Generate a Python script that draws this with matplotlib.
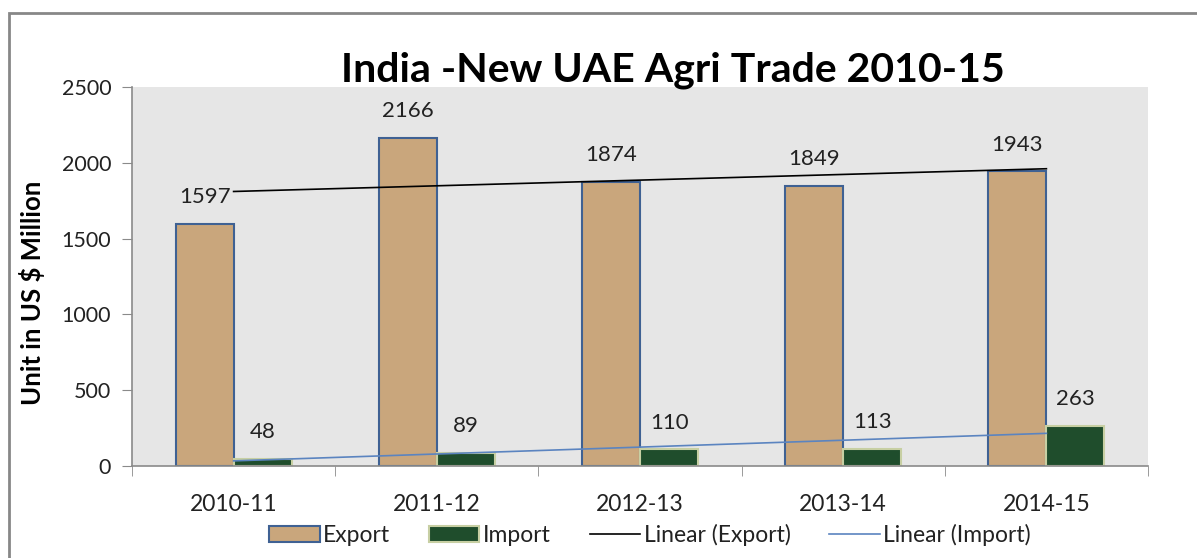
import numpy as np
import matplotlib
matplotlib.use("Agg")
import matplotlib.pyplot as plt
from matplotlib.patches import Rectangle

plt.rcParams['font.family'] = ['Lato', 'DejaVu Sans']

# data
years = ["2010-11", "2011-12", "2012-13", "2013-14", "2014-15"]
export = [1597, 2166, 1874, 1849, 1943]
imports = [48, 89, 110, 113, 263]

fig = plt.figure(figsize=(11.97, 5.58), dpi=100)
ax = fig.add_axes([132/1197, 1 - 466/558, (1148-132)/1197, (466-87)/558])
ax.set_facecolor("#e6e6e6")

x = np.arange(len(years))
w = 1 / 3.5  # excel gap width 150%

b1 = ax.bar(x - w/2, export, w, color="#c9a67c", edgecolor="#3f6193", linewidth=1.5,
            label="Export", zorder=2)
b2 = ax.bar(x + w/2, imports, w, color="#1f4d2c", edgecolor="#c7cfa3", linewidth=1.5,
            label="Import", zorder=2)

# linear trend lines (fit over the category index)
xs = np.array([0, len(years) - 1])
pe = np.polyfit(x, export, 1)
pi = np.polyfit(x, imports, 1)
l1, = ax.plot(xs, np.polyval(pe, xs), color="black", lw=1.2, label="Linear (Export)", zorder=3)
l2, = ax.plot(xs, np.polyval(pi, xs), color="#5b84c0", lw=1.2, label="Linear (Import)", zorder=3)

# value labels
for xi, v in zip(x, export):
    ax.annotate(str(v), (xi - w/2, v), xytext=(0, 12), textcoords="offset points",
                ha="center", va="bottom", fontsize=16, color="#222222", zorder=4)
for xi, v in zip(x, imports):
    ax.annotate(str(v), (xi + w/2, v), xytext=(0, 12), textcoords="offset points",
                ha="center", va="bottom", fontsize=16, color="#222222", zorder=4)

ax.set_xlim(-0.5, len(years) - 0.5)
ax.set_ylim(0, 2500)
ax.set_yticks(range(0, 2501, 500))
ax.set_xticks(x)
ax.set_xticklabels(years, fontsize=16.5, color="#222222")
ax.set_xticks(np.arange(len(years) + 1) - 0.5, minor=True)
ax.tick_params(axis="x", which="major", length=0, pad=20)
ax.tick_params(axis="x", which="minor", length=7, color="#8a8a8a", direction="out")
ax.tick_params(axis="y", length=7, color="#8a8a8a", direction="out", labelsize=15.5,
               labelcolor="#222222", pad=8)
for s in ["top", "right"]:
    ax.spines[s].set_visible(False)
for s in ["left", "bottom"]:
    ax.spines[s].set_color("#8a8a8a")
    ax.spines[s].set_linewidth(1.2)

fig.text(673/1197, 1 - 70/558, "India -New UAE Agri Trade 2010-15", ha="center", va="center",
         fontsize=29.5, fontweight="bold", color="black")
fig.text(32/1197, 1 - 293/558, "Unit in US $ Million", rotation=90, ha="center", va="center",
         fontsize=18.5, fontweight="bold", color="black")

ax.legend(handles=[b1, b2, l1, l2], loc="center", bbox_to_anchor=(650/1197, 1 - 535/558),
          bbox_transform=fig.transFigure, ncol=4, frameon=False, fontsize=16.5,
          handlelength=2.2, handleheight=0.75, handletextpad=0.15, columnspacing=1.7,
          labelcolor="#222222")

# outer chart border
fig.patches.append(Rectangle((9/1197, -0.1), 1.2, 1 - 13/558 + 0.1, transform=fig.transFigure,
                             fill=False, edgecolor="#878787", linewidth=2))

fig.savefig("out.png", dpi=100)
